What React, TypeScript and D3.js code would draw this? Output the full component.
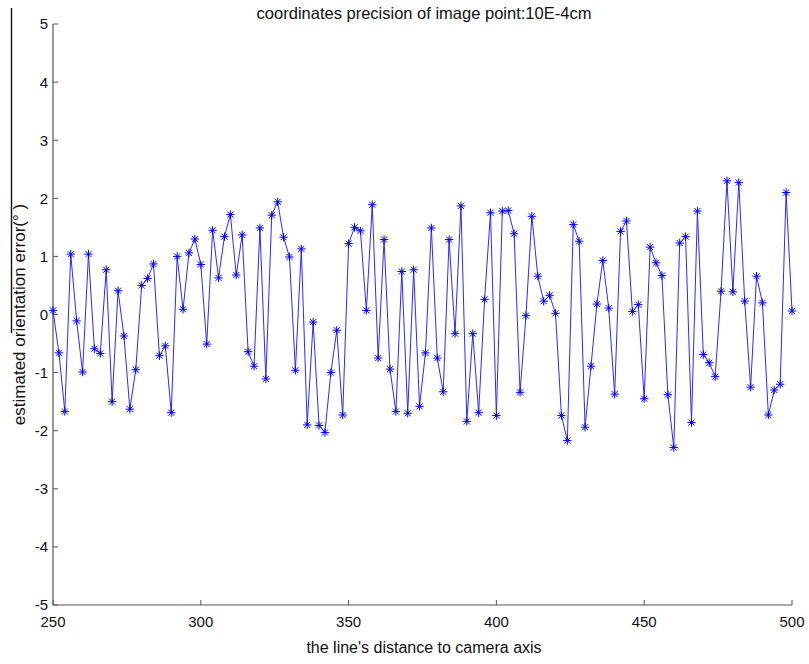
import React from "react";
import * as d3 from "d3";

// distance samples (every 2 units from 250 to 500)
const distances = d3.range(250, 501, 2);

// estimated orientation error
const errors = [
  0.07, -0.66, -1.67, 1.04, -0.11, -0.99, 1.04, -0.59, -0.67, 0.77,
  -1.5, 0.41, -0.37, -1.63, -0.95, 0.5, 0.62, 0.87, -0.71, -0.54,
  -1.69, 1.0, 0.09, 1.06, 1.3, 0.86, -0.51, 1.45, 0.63, 1.34,
  1.72, 0.68, 1.37, -0.64, -0.89, 1.49, -1.11, 1.71, 1.94, 1.33,
  0.99, -0.96, 1.13, -1.9, -0.13, -1.91, -2.03, -1.0, -0.27, -1.73,
  1.22, 1.5, 1.44, 0.07, 1.89, -0.75, 1.29, -0.94, -1.67, 0.74,
  -1.7, 0.77, -1.58, -0.66, 1.49, -0.75, -1.33, 1.29, -0.33, 1.87,
  -1.84, -0.33, -1.69, 0.26, 1.75, -1.74, 1.78, 1.79, 1.39, -1.34,
  -0.02, 1.69, 0.66, 0.23, 0.33, 0.02, -1.74, -2.17, 1.55, 1.26,
  -1.94, -0.89, 0.18, 0.93, 0.11, -1.37, 1.43, 1.61, 0.05, 0.17,
  -1.45, 1.16, 0.89, 0.67, -1.38, -2.29, 1.23, 1.34, -1.86, 1.78,
  -0.69, -0.83, -1.07, 0.4, 2.3, 0.39, 2.27, 0.23, -1.25, 0.66,
  0.2, -1.73, -1.3, -1.2, 2.1, 0.06,
];

const xTicks = [250, 300, 350, 400, 450, 500];
const yTicks = [-5, -4, -3, -2, -1, 0, 1, 2, 3, 4, 5];

const title = "coordinates precision of image point:10E-4cm";
const xLabel = "the line's distance to camera axis";
const yLabel = "estimated orientation error(\u00b0 )";

const W = 809;
const H = 664;
const margin = { left: 53, right: 17, top: 24, bottom: 59 };
const font = "'Liberation Sans', Arial, Helvetica, sans-serif";

export default function App() {
  const x = d3.scaleLinear().domain([250, 500]).range([margin.left, W - margin.right]);
  const y = d3.scaleLinear().domain([-5, 5]).range([H - margin.bottom, margin.top]);

  const pts = distances.map((d, i) => [x(d), y(errors[i])] as [number, number]);
  const line = d3.line()(pts) || "";

  const r = 4.2;
  const rd = r * 0.72;
  const star = (cx: number, cy: number) =>
    `M${cx - r},${cy}H${cx + r}M${cx},${cy - r}V${cy + r}` +
    `M${cx - rd},${cy - rd}L${cx + rd},${cy + rd}M${cx - rd},${cy + rd}L${cx + rd},${cy - rd}`;

  const x0 = x(250);
  const x1 = x(500);
  const y0 = y(-5);
  const yTop = y(5);
  const axisColor = "#555";

  return (
    <svg
      width={W}
      height={H}
      style={{ position: "absolute", left: 0, top: 0, background: "#fff" }}
      fontFamily={font}
    >
      <rect width={W} height={H} fill="#fff" />
      {/* stray frame edge at the left of the scan */}
      <line x1={11.5} x2={11.5} y1={8} y2={333} stroke="#111" strokeWidth={1.4} />

      {/* axes */}
      <line x1={x0} x2={x0} y1={yTop} y2={y0} stroke={axisColor} strokeWidth={1.2} />
      <line x1={x0} x2={x1} y1={y0} y2={y0} stroke={axisColor} strokeWidth={1.2} />

      {yTicks.map((t) => (
        <g key={"y" + t}>
          <line x1={x0} x2={x0 + 5} y1={y(t)} y2={y(t)} stroke={axisColor} strokeWidth={1} />
          <text x={x0 - 5} y={y(t)} dy="0.36em" textAnchor="end" fontSize={15} fill="#111">
            {t}
          </text>
        </g>
      ))}
      {xTicks.map((t) => (
        <g key={"x" + t}>
          <line x1={x(t)} x2={x(t)} y1={y0} y2={y0 - 5} stroke={axisColor} strokeWidth={1} />
          <text x={x(t)} y={y0 + 22} textAnchor="middle" fontSize={15} fill="#111">
            {t}
          </text>
        </g>
      ))}

      {/* data */}
      <path d={line} fill="none" stroke="#2a2aff" strokeWidth={1} />
      <path
        d={pts.map(([cx, cy]) => star(cx, cy)).join("")}
        fill="none"
        stroke="#0000ff"
        strokeWidth={1}
      />

      <text x={424} y={19} textAnchor="middle" fontSize={16.5} fill="#111">
        {title}
      </text>
      <text x={424} y={653} textAnchor="middle" fontSize={16} fill="#111">
        {xLabel}
      </text>
      <text
        transform={`translate(25,${(yTop + y0) / 2}) rotate(-90)`}
        textAnchor="middle"
        fontSize={17}
        fill="#111"
      >
        {yLabel}
      </text>
    </svg>
  );
}
